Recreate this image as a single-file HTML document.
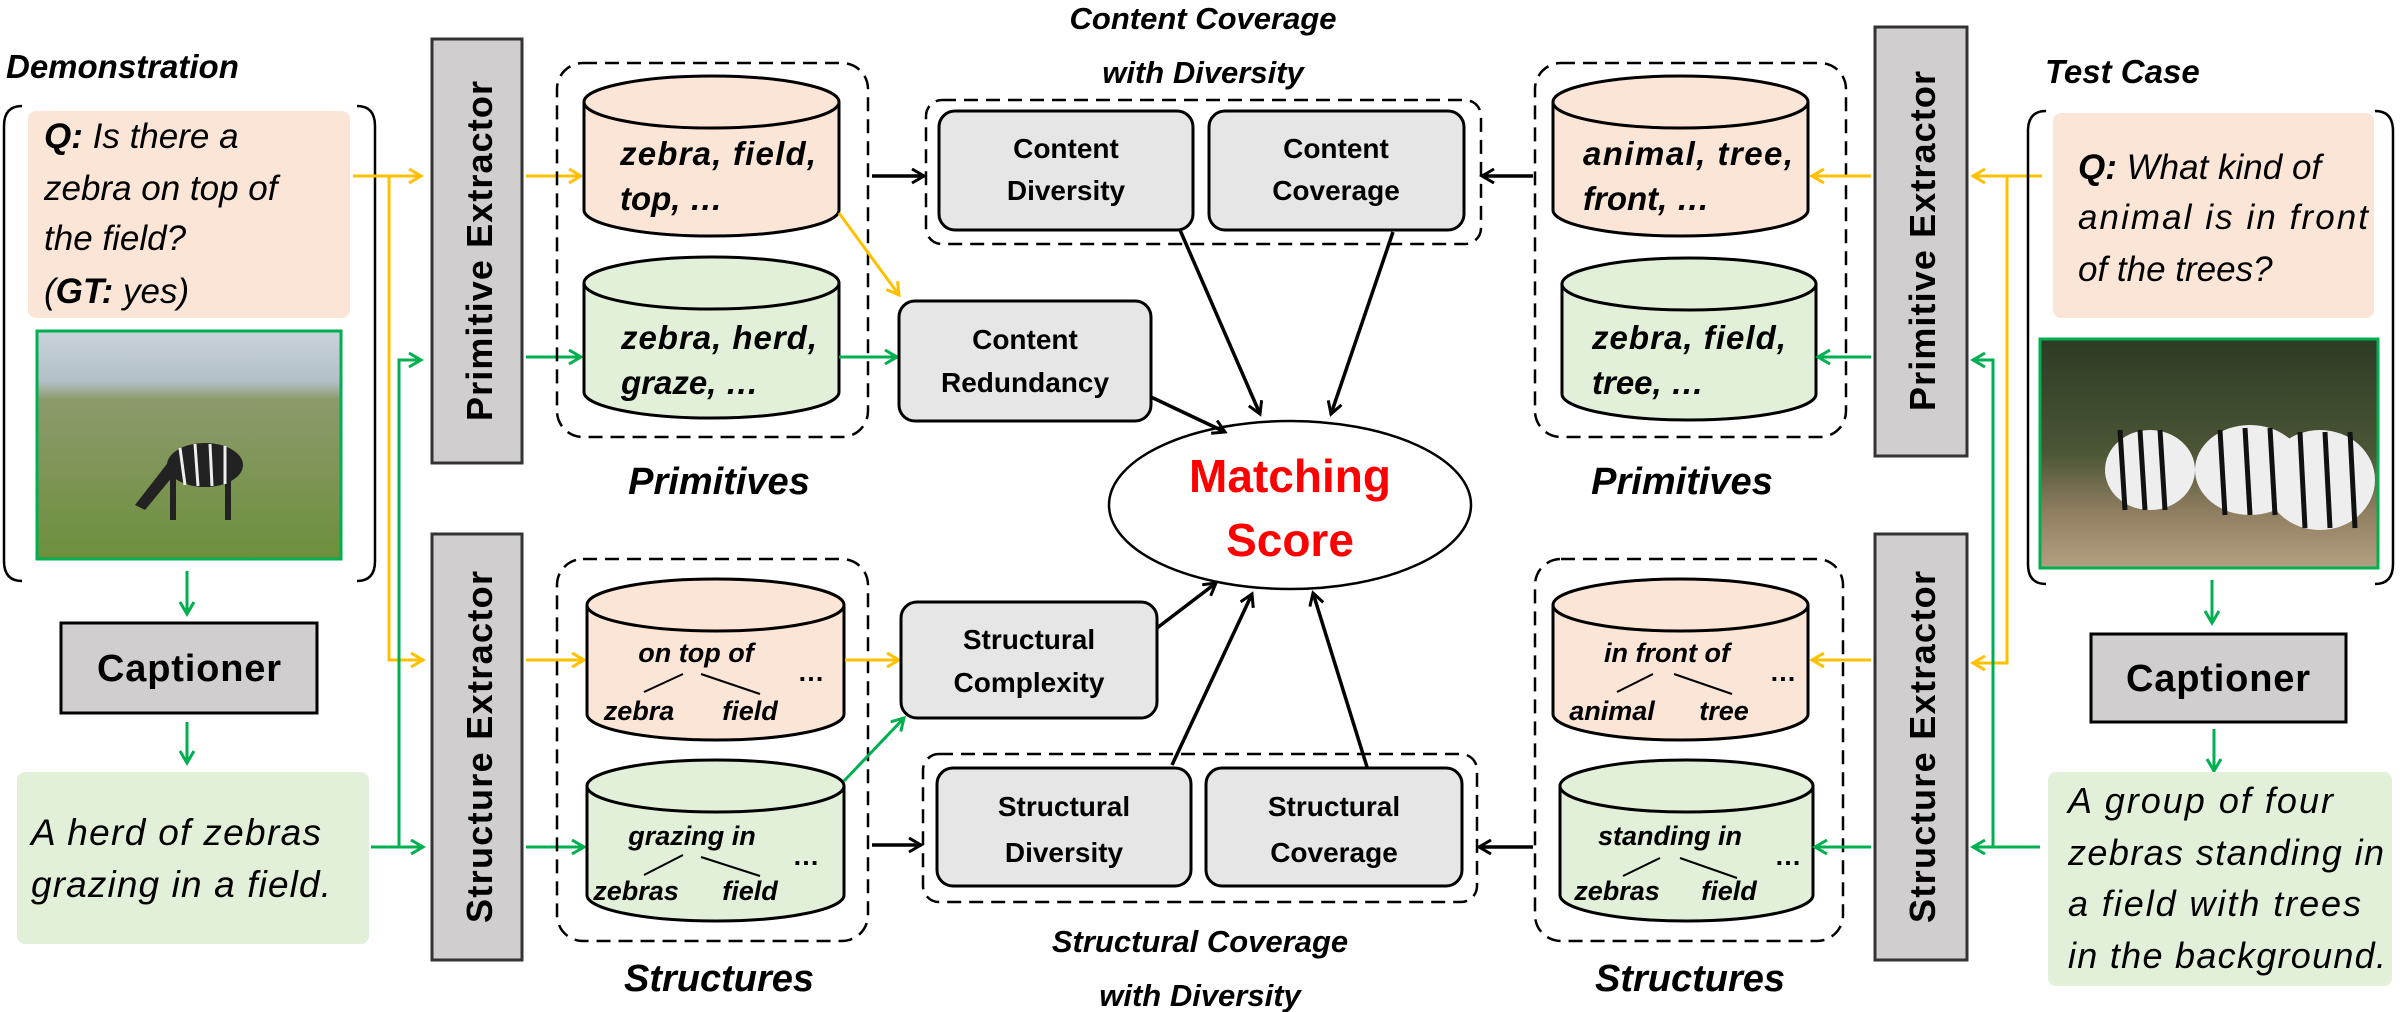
<!DOCTYPE html>
<html><head><meta charset="utf-8"><style>
html,body{margin:0;padding:0;background:#fff;}
svg{display:block;}
text{font-family:"Liberation Sans",sans-serif;}
.bi{font-weight:bold;font-style:italic;}
.it{font-style:italic;}
.b{font-weight:bold;}
</style></head><body>
<svg width="2402" height="1012" viewBox="0 0 2402 1012" xmlns="http://www.w3.org/2000/svg">
<defs>
<marker id="ay" markerUnits="userSpaceOnUse" markerWidth="20" markerHeight="20" refX="14" refY="8" orient="auto"><path d="M2,1 L14,8 L2,15" fill="none" stroke="#ffc000" stroke-width="3"/></marker>
<marker id="ag" markerUnits="userSpaceOnUse" markerWidth="20" markerHeight="20" refX="14" refY="8" orient="auto"><path d="M2,1 L14,8 L2,15" fill="none" stroke="#00b050" stroke-width="3"/></marker>
<marker id="ak" markerUnits="userSpaceOnUse" markerWidth="20" markerHeight="20" refX="14" refY="8" orient="auto"><path d="M2,1 L14,8 L2,15" fill="none" stroke="#000" stroke-width="3"/></marker>
<linearGradient id="img1" x1="0" y1="0" x2="0" y2="1"><stop offset="0" stop-color="#c9d3dc"/><stop offset="0.22" stop-color="#b3c0c8"/><stop offset="0.3" stop-color="#8d9a6c"/><stop offset="1" stop-color="#6c8f3c"/></linearGradient>
<linearGradient id="img2" x1="0" y1="0" x2="0" y2="1"><stop offset="0" stop-color="#2e3b24"/><stop offset="0.5" stop-color="#4b5636"/><stop offset="0.75" stop-color="#8f7d60"/><stop offset="1" stop-color="#b49f80"/></linearGradient>
</defs>

<!-- LEFT demonstration -->
<text x="6" y="78" class="bi" font-size="33">Demonstration</text>
<path d="M22,106 Q4,106 4,126 L4,561 Q4,581 22,581" fill="none" stroke="#000" stroke-width="2.5"/>
<path d="M357,106 Q375,106 375,126 L375,561 Q375,581 357,581" fill="none" stroke="#000" stroke-width="2.5"/>
<rect x="28" y="111" width="322" height="207" rx="8" fill="#fbe5d6"/>
<text x="44" y="148" class="it" font-size="35"><tspan class="b">Q:</tspan> Is there a</text>
<text x="44" y="200" class="it" font-size="35">zebra on top of</text>
<text x="44" y="250" class="it" font-size="35">the field?</text>
<text x="44" y="303" class="it" font-size="35">(<tspan class="b">GT:</tspan> yes)</text>
<rect x="37" y="331" width="304" height="228" fill="url(#img1)" stroke="#00b050" stroke-width="3"/>
<g fill="#222"><ellipse cx="205" cy="465" rx="38" ry="22"/><rect x="170" y="470" width="6" height="50"/><rect x="225" y="470" width="6" height="50"/><path d="M170,460 L135,505 L145,510 L178,470Z"/></g>
<g stroke="#eee" stroke-width="3"><line x1="180" y1="448" x2="185" y2="485"/><line x1="195" y1="444" x2="198" y2="486"/><line x1="210" y1="444" x2="212" y2="486"/><line x1="225" y1="446" x2="225" y2="484"/></g>
<line x1="187" y1="571" x2="187" y2="614" stroke="#00b050" stroke-width="3" marker-end="url(#ag)"/>
<rect x="61" y="623" width="256" height="90" fill="#d0cece" stroke="#000" stroke-width="3"/>
<text x="189" y="681" text-anchor="middle" class="b" font-size="38" textLength="184">Captioner</text>
<line x1="187" y1="722" x2="187" y2="763" stroke="#00b050" stroke-width="3" marker-end="url(#ag)"/>
<rect x="17" y="772" width="352" height="172" rx="8" fill="#e2f0d9"/>
<text x="31" y="845" class="it" font-size="37" textLength="290">A herd of zebras</text>
<text x="31" y="897" class="it" font-size="37" textLength="300">grazing in a field.</text>

<!-- left connectors -->
<polyline points="353,176 389,176 389,660 423,660" fill="none" stroke="#ffc000" stroke-width="3" marker-end="url(#ay)"/>
<line x1="389" y1="176" x2="421" y2="176" stroke="#ffc000" stroke-width="3" marker-end="url(#ay)"/>
<polyline points="371,847 399,847 399,360 421,360" fill="none" stroke="#00b050" stroke-width="3" marker-end="url(#ag)"/>
<line x1="399" y1="847" x2="423" y2="847" stroke="#00b050" stroke-width="3" marker-end="url(#ag)"/>

<!-- left extractors -->
<rect x="432" y="39" width="90" height="424" fill="#d0cece" stroke="#333" stroke-width="3"/>
<text transform="translate(492,251) rotate(-90)" text-anchor="middle" class="b" font-size="36" textLength="340">Primitive Extractor</text>
<rect x="432" y="534" width="90" height="426" fill="#d0cece" stroke="#333" stroke-width="3"/>
<text transform="translate(492,747) rotate(-90)" text-anchor="middle" class="b" font-size="36" textLength="352">Structure Extractor</text>

<line x1="526" y1="176" x2="581" y2="176" stroke="#ffc000" stroke-width="3" marker-end="url(#ay)"/>
<line x1="526" y1="357" x2="581" y2="357" stroke="#00b050" stroke-width="3" marker-end="url(#ag)"/>
<line x1="526" y1="660" x2="584" y2="660" stroke="#ffc000" stroke-width="3" marker-end="url(#ay)"/>
<line x1="526" y1="847" x2="584" y2="847" stroke="#00b050" stroke-width="3" marker-end="url(#ag)"/>

<!-- left primitives -->
<rect x="557" y="63" width="311" height="374" rx="26" fill="none" stroke="#000" stroke-width="2.5" stroke-dasharray="14,8"/>
<path d="M584,102 L584,210 A127.5,26 0 0 0 839,210 L839,102" fill="#fbe5d6" stroke="#000" stroke-width="3"/>
<ellipse cx="711.5" cy="102" rx="127.5" ry="26" fill="#fbe5d6" stroke="#000" stroke-width="3"/>
<text x="620" y="165" class="bi" font-size="33" textLength="196">zebra, field,</text>
<text x="620" y="210" class="bi" font-size="33">top, …</text>
<path d="M584,283 L584,392 A127.5,26 0 0 0 839,392 L839,283" fill="#e2f0d9" stroke="#000" stroke-width="3"/>
<ellipse cx="711.5" cy="283" rx="127.5" ry="26" fill="#e2f0d9" stroke="#000" stroke-width="3"/>
<text x="621" y="349" class="bi" font-size="33" textLength="196">zebra, herd,</text>
<text x="621" y="394" class="bi" font-size="33">graze, …</text>
<text x="719" y="494" text-anchor="middle" class="bi" font-size="38">Primitives</text>

<!-- left structures -->
<rect x="557" y="559" width="311" height="382" rx="26" fill="none" stroke="#000" stroke-width="2.5" stroke-dasharray="14,8"/>
<path d="M587,605 L587,714 A128.5,26 0 0 0 844,714 L844,605" fill="#fbe5d6" stroke="#000" stroke-width="3"/>
<ellipse cx="715.5" cy="605" rx="128.5" ry="26" fill="#fbe5d6" stroke="#000" stroke-width="3"/>
<text x="696" y="662" text-anchor="middle" class="bi" font-size="27">on top of</text>
<line x1="683" y1="674" x2="644" y2="692" stroke="#000" stroke-width="2"/>
<line x1="701" y1="674" x2="760" y2="694" stroke="#000" stroke-width="2"/>
<text x="639" y="720" text-anchor="middle" class="bi" font-size="27">zebra</text>
<text x="750" y="720" text-anchor="middle" class="bi" font-size="27">field</text>
<text x="811" y="681" text-anchor="middle" class="b" font-size="27">…</text>
<path d="M587,786 L587,895 A128.5,26 0 0 0 844,895 L844,786" fill="#e2f0d9" stroke="#000" stroke-width="3"/>
<ellipse cx="715.5" cy="786" rx="128.5" ry="26" fill="#e2f0d9" stroke="#000" stroke-width="3"/>
<text x="692" y="845" text-anchor="middle" class="bi" font-size="27">grazing in</text>
<line x1="683" y1="855" x2="644" y2="875" stroke="#000" stroke-width="2"/>
<line x1="701" y1="857" x2="760" y2="876" stroke="#000" stroke-width="2"/>
<text x="636" y="900" text-anchor="middle" class="bi" font-size="27">zebras</text>
<text x="750" y="900" text-anchor="middle" class="bi" font-size="27">field</text>
<text x="806" y="865" text-anchor="middle" class="b" font-size="27">…</text>
<text x="719" y="991" text-anchor="middle" class="bi" font-size="38">Structures</text>

<!-- left to middle colored arrows -->
<line x1="839" y1="213" x2="899" y2="295" stroke="#ffc000" stroke-width="3" marker-end="url(#ay)"/>
<line x1="839" y1="357" x2="897" y2="357" stroke="#00b050" stroke-width="3" marker-end="url(#ag)"/>
<line x1="845" y1="660" x2="899" y2="660" stroke="#ffc000" stroke-width="3" marker-end="url(#ay)"/>
<line x1="844" y1="781" x2="904" y2="718" stroke="#00b050" stroke-width="3" marker-end="url(#ag)"/>
<line x1="872" y1="176" x2="924" y2="176" stroke="#000" stroke-width="3.5" marker-end="url(#ak)"/>
<line x1="872" y1="845" x2="921" y2="845" stroke="#000" stroke-width="3.5" marker-end="url(#ak)"/>

<!-- middle -->
<text x="1203" y="29" text-anchor="middle" class="bi" font-size="31">Content Coverage</text>
<text x="1203" y="83" text-anchor="middle" class="bi" font-size="31">with Diversity</text>
<rect x="926" y="100" width="555" height="144" rx="16" fill="none" stroke="#000" stroke-width="2.5" stroke-dasharray="14,8"/>
<rect x="939" y="111" width="254" height="119" rx="16" fill="#e7e6e6" stroke="#000" stroke-width="3"/>
<text x="1066" y="158" text-anchor="middle" class="b" font-size="28">Content</text>
<text x="1066" y="200" text-anchor="middle" class="b" font-size="28">Diversity</text>
<rect x="1209" y="111" width="255" height="119" rx="16" fill="#e7e6e6" stroke="#000" stroke-width="3"/>
<text x="1336" y="158" text-anchor="middle" class="b" font-size="28">Content</text>
<text x="1336" y="200" text-anchor="middle" class="b" font-size="28">Coverage</text>

<rect x="899" y="301" width="252" height="120" rx="16" fill="#e7e6e6" stroke="#000" stroke-width="3"/>
<text x="1025" y="349" text-anchor="middle" class="b" font-size="28">Content</text>
<text x="1025" y="392" text-anchor="middle" class="b" font-size="28">Redundancy</text>
<rect x="901" y="602" width="256" height="116" rx="16" fill="#e7e6e6" stroke="#000" stroke-width="3"/>
<text x="1029" y="649" text-anchor="middle" class="b" font-size="28">Structural</text>
<text x="1029" y="692" text-anchor="middle" class="b" font-size="28">Complexity</text>

<rect x="923" y="754" width="554" height="148" rx="16" fill="none" stroke="#000" stroke-width="2.5" stroke-dasharray="14,8"/>
<rect x="937" y="768" width="254" height="118" rx="16" fill="#e7e6e6" stroke="#000" stroke-width="3"/>
<text x="1064" y="816" text-anchor="middle" class="b" font-size="28">Structural</text>
<text x="1064" y="862" text-anchor="middle" class="b" font-size="28">Diversity</text>
<rect x="1206" y="768" width="256" height="118" rx="16" fill="#e7e6e6" stroke="#000" stroke-width="3"/>
<text x="1334" y="816" text-anchor="middle" class="b" font-size="28">Structural</text>
<text x="1334" y="862" text-anchor="middle" class="b" font-size="28">Coverage</text>
<text x="1200" y="952" text-anchor="middle" class="bi" font-size="31">Structural Coverage</text>
<text x="1200" y="1006" text-anchor="middle" class="bi" font-size="31">with Diversity</text>

<ellipse cx="1290" cy="505" rx="181" ry="84" fill="#fff" stroke="#000" stroke-width="2.5"/>
<text x="1290" y="492" text-anchor="middle" class="b" font-size="46" fill="#ff0000">Matching</text>
<text x="1290" y="556" text-anchor="middle" class="b" font-size="46" fill="#ff0000">Score</text>

<line x1="1180" y1="230" x2="1260" y2="414" stroke="#000" stroke-width="3.5" marker-end="url(#ak)"/>
<line x1="1393" y1="232" x2="1331" y2="414" stroke="#000" stroke-width="3.5" marker-end="url(#ak)"/>
<line x1="1151" y1="397" x2="1225" y2="432" stroke="#000" stroke-width="3.5" marker-end="url(#ak)"/>
<line x1="1157" y1="628" x2="1216" y2="583" stroke="#000" stroke-width="3.5" marker-end="url(#ak)"/>
<line x1="1172" y1="765" x2="1252" y2="594" stroke="#000" stroke-width="3.5" marker-end="url(#ak)"/>
<line x1="1367" y1="767" x2="1313" y2="593" stroke="#000" stroke-width="3.5" marker-end="url(#ak)"/>

<line x1="1533" y1="176" x2="1482" y2="176" stroke="#000" stroke-width="3.5" marker-end="url(#ak)"/>
<line x1="1533" y1="847" x2="1479" y2="847" stroke="#000" stroke-width="3.5" marker-end="url(#ak)"/>

<!-- right primitives -->
<rect x="1535" y="63" width="311" height="374" rx="26" fill="none" stroke="#000" stroke-width="2.5" stroke-dasharray="14,8"/>
<path d="M1553,102 L1553,210 A127.5,26 0 0 0 1808,210 L1808,102" fill="#fbe5d6" stroke="#000" stroke-width="3"/>
<ellipse cx="1680.5" cy="102" rx="127.5" ry="26" fill="#fbe5d6" stroke="#000" stroke-width="3"/>
<text x="1583" y="165" class="bi" font-size="33" textLength="210">animal, tree,</text>
<text x="1583" y="210" class="bi" font-size="33">front, …</text>
<path d="M1562,284 L1562,394 A127,26 0 0 0 1816,394 L1816,284" fill="#e2f0d9" stroke="#000" stroke-width="3"/>
<ellipse cx="1689" cy="284" rx="127" ry="26" fill="#e2f0d9" stroke="#000" stroke-width="3"/>
<text x="1592" y="349" class="bi" font-size="33" textLength="194">zebra, field,</text>
<text x="1592" y="394" class="bi" font-size="33">tree, …</text>
<text x="1682" y="494" text-anchor="middle" class="bi" font-size="38">Primitives</text>

<!-- right structures -->
<rect x="1535" y="559" width="308" height="382" rx="26" fill="none" stroke="#000" stroke-width="2.5" stroke-dasharray="14,8"/>
<path d="M1553,605 L1553,714 A127.5,26 0 0 0 1808,714 L1808,605" fill="#fbe5d6" stroke="#000" stroke-width="3"/>
<ellipse cx="1680.5" cy="605" rx="127.5" ry="26" fill="#fbe5d6" stroke="#000" stroke-width="3"/>
<text x="1667" y="662" text-anchor="middle" class="bi" font-size="27">in front of</text>
<line x1="1653" y1="674" x2="1617" y2="692" stroke="#000" stroke-width="2"/>
<line x1="1674" y1="674" x2="1732" y2="694" stroke="#000" stroke-width="2"/>
<text x="1612" y="720" text-anchor="middle" class="bi" font-size="27">animal</text>
<text x="1724" y="720" text-anchor="middle" class="bi" font-size="27">tree</text>
<text x="1783" y="681" text-anchor="middle" class="b" font-size="27">…</text>
<path d="M1560,786 L1560,895 A126.5,26 0 0 0 1813,895 L1813,786" fill="#e2f0d9" stroke="#000" stroke-width="3"/>
<ellipse cx="1686.5" cy="786" rx="126.5" ry="26" fill="#e2f0d9" stroke="#000" stroke-width="3"/>
<text x="1670" y="845" text-anchor="middle" class="bi" font-size="27">standing in</text>
<line x1="1660" y1="858" x2="1623" y2="876" stroke="#000" stroke-width="2"/>
<line x1="1680" y1="858" x2="1737" y2="878" stroke="#000" stroke-width="2"/>
<text x="1617" y="900" text-anchor="middle" class="bi" font-size="27">zebras</text>
<text x="1729" y="900" text-anchor="middle" class="bi" font-size="27">field</text>
<text x="1788" y="865" text-anchor="middle" class="b" font-size="27">…</text>
<text x="1690" y="991" text-anchor="middle" class="bi" font-size="38">Structures</text>

<line x1="1871" y1="176" x2="1812" y2="176" stroke="#ffc000" stroke-width="3" marker-end="url(#ay)"/>
<line x1="1871" y1="357" x2="1818" y2="357" stroke="#00b050" stroke-width="3" marker-end="url(#ag)"/>
<line x1="1871" y1="660" x2="1812" y2="660" stroke="#ffc000" stroke-width="3" marker-end="url(#ay)"/>
<line x1="1871" y1="847" x2="1815" y2="847" stroke="#00b050" stroke-width="3" marker-end="url(#ag)"/>

<!-- right extractors -->
<rect x="1875" y="27" width="92" height="429" fill="#d0cece" stroke="#333" stroke-width="3"/>
<text transform="translate(1935,241) rotate(-90)" text-anchor="middle" class="b" font-size="36" textLength="340">Primitive Extractor</text>
<rect x="1875" y="534" width="92" height="426" fill="#d0cece" stroke="#333" stroke-width="3"/>
<text transform="translate(1935,747) rotate(-90)" text-anchor="middle" class="b" font-size="36" textLength="352">Structure Extractor</text>

<!-- right connectors -->
<polyline points="2042,176 2007,176 2007,663 1973,663" fill="none" stroke="#ffc000" stroke-width="3" marker-end="url(#ay)"/>
<line x1="2007" y1="176" x2="1973" y2="176" stroke="#ffc000" stroke-width="3" marker-end="url(#ay)"/>
<polyline points="2040,847 1993,847 1993,360 1973,360" fill="none" stroke="#00b050" stroke-width="3" marker-end="url(#ag)"/>
<line x1="1993" y1="847" x2="1973" y2="847" stroke="#00b050" stroke-width="3" marker-end="url(#ag)"/>

<!-- right test case -->
<text x="2045" y="83" class="bi" font-size="33">Test Case</text>
<path d="M2046,111 Q2028,111 2028,131 L2028,564 Q2028,584 2046,584" fill="none" stroke="#000" stroke-width="2.5"/>
<path d="M2375,111 Q2393,111 2393,131 L2393,564 Q2393,584 2375,584" fill="none" stroke="#000" stroke-width="2.5"/>
<rect x="2053" y="113" width="321" height="205" rx="8" fill="#fbe5d6"/>
<text x="2078" y="179" class="it" font-size="35"><tspan class="b">Q:</tspan> What kind of</text>
<text x="2078" y="229" class="it" font-size="35" textLength="290">animal is in front</text>
<text x="2078" y="281" class="it" font-size="35">of the trees?</text>
<rect x="2040" y="339" width="338" height="229" fill="url(#img2)" stroke="#00b050" stroke-width="3"/>
<g fill="#eee"><ellipse cx="2150" cy="470" rx="45" ry="40"/><ellipse cx="2250" cy="470" rx="55" ry="45"/><ellipse cx="2320" cy="480" rx="55" ry="50"/></g>
<g stroke="#111" stroke-width="5"><line x1="2120" y1="430" x2="2125" y2="510"/><line x1="2140" y1="430" x2="2145" y2="510"/><line x1="2160" y1="430" x2="2165" y2="510"/><line x1="2220" y1="430" x2="2225" y2="515"/><line x1="2245" y1="428" x2="2250" y2="515"/><line x1="2270" y1="428" x2="2275" y2="515"/><line x1="2300" y1="432" x2="2305" y2="528"/><line x1="2325" y1="432" x2="2330" y2="528"/><line x1="2350" y1="432" x2="2355" y2="528"/></g>
<line x1="2212" y1="580" x2="2212" y2="623" stroke="#00b050" stroke-width="3" marker-end="url(#ag)"/>
<rect x="2091" y="634" width="255" height="88" fill="#d0cece" stroke="#000" stroke-width="3"/>
<text x="2218" y="691" text-anchor="middle" class="b" font-size="38" textLength="184">Captioner</text>
<line x1="2214" y1="729" x2="2214" y2="771" stroke="#00b050" stroke-width="3" marker-end="url(#ag)"/>
<rect x="2048" y="772" width="344" height="214" rx="8" fill="#e2f0d9"/>
<text x="2068" y="813" class="it" font-size="36" textLength="265">A group of four</text>
<text x="2068" y="865" class="it" font-size="36" textLength="316">zebras standing in</text>
<text x="2068" y="916" class="it" font-size="36" textLength="293">a field with trees</text>
<text x="2068" y="968" class="it" font-size="36" textLength="318">in the background.</text>
</svg>
</body></html>
